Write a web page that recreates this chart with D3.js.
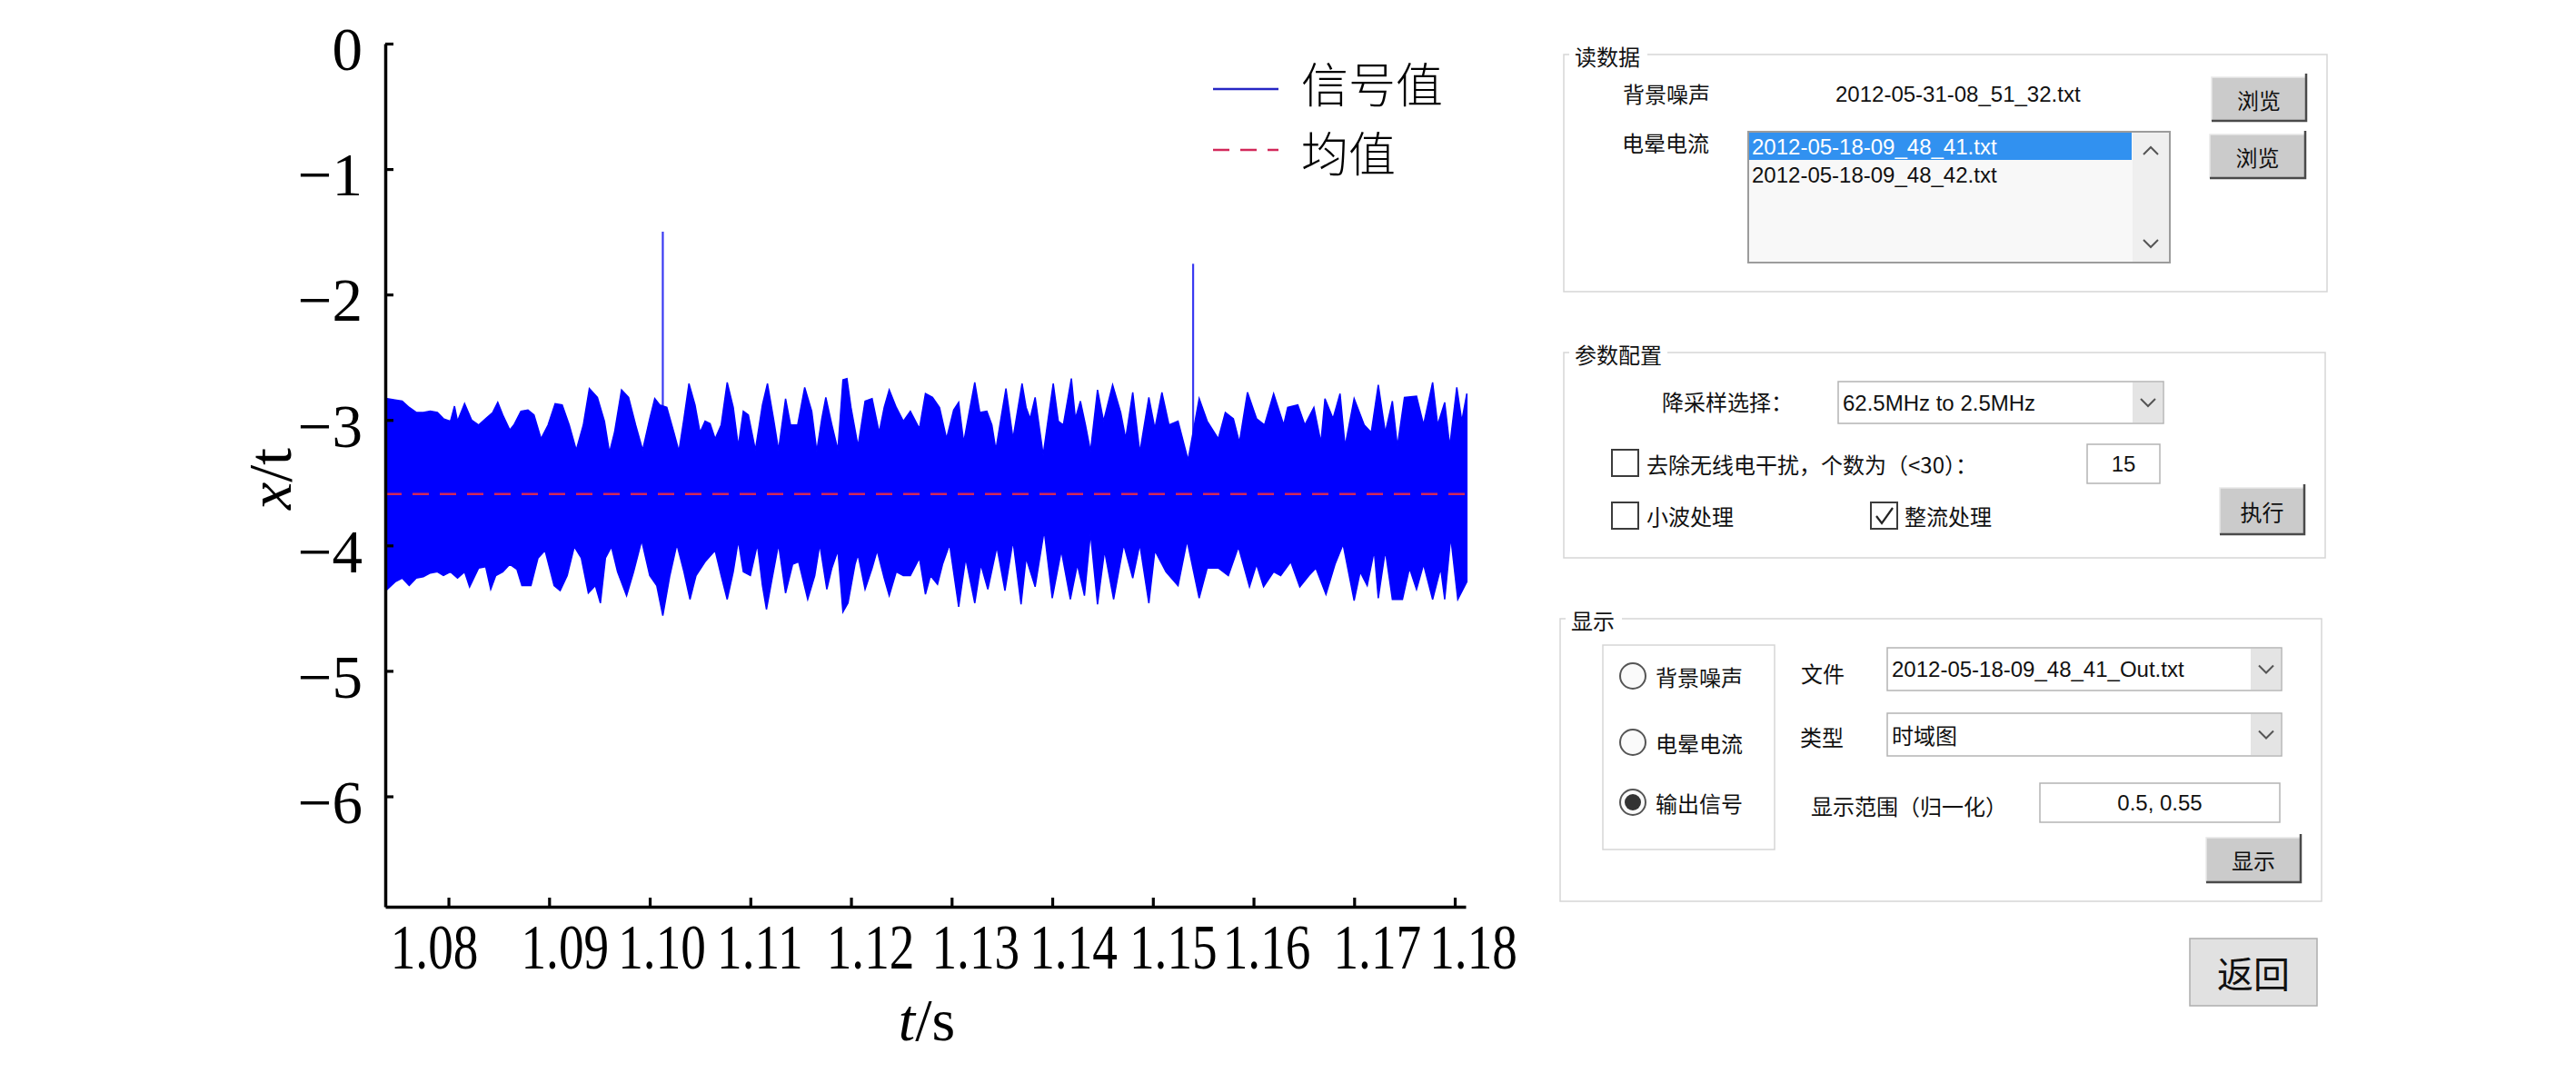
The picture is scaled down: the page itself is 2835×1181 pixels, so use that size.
<!DOCTYPE html>
<meta charset="utf-8">
<style>
    body { margin: 0; background: #fff; }
    .ui-cjk { font-family: "Noto Sans CJK SC", sans-serif; }
    .ui-lat { font-family: "Liberation Sans", Arial, "Noto Sans CJK SC", sans-serif; }
</style>
<script src="https://d3js.org/d3.v7.min.js"></script>

<svg id="my_chart" width="2835" height="1181"></svg>

<script>
    // ---- signal envelope (time in s, value in x/t units) ----
    var upperT = [1.0739,1.0747,1.0754,1.0761,1.0768,1.0775,1.0782,1.0789,1.0795,1.0802,1.0806,1.0809,1.0816,1.0823,1.0830,1.0837,1.0844,1.0849,1.0854,1.0861,1.0865,1.0872,1.0879,1.0885,1.0892,1.0899,1.0906,1.0913,1.0920,1.0927,1.0934,1.0940,1.0948,1.0955,1.0960,1.0965,1.0972,1.0979,1.0986,1.0993,1.1000,1.1005,1.1010,1.1017,1.1024,1.1029,1.1034,1.1039,1.1045,1.1050,1.1055,1.1060,1.1065,1.1071,1.1077,1.1083,1.1088,1.1093,1.1098,1.1105,1.1112,1.1117,1.1123,1.1128,1.1135,1.1140,1.1147,1.1154,1.1161,1.1166,1.1171,1.1175,1.1181,1.1187,1.1192,1.1196,1.1200,1.1207,1.1214,1.1221,1.1228,1.1233,1.1238,1.1245,1.1252,1.1259,1.1268,
        1.1274,1.1281,1.1288,1.1295,1.1302,1.1307,1.1312,1.1317,1.1323,1.1328,1.1335,1.1340,1.1344,1.1349,1.1354,1.1361,1.1370,1.1374,1.1378,1.1383,1.1391,1.1396,1.1401,1.1406,1.1411,1.1419,1.1423,1.1428,1.1433,1.1438,1.1445,1.1451,1.1460,1.1468,1.1473,1.1480,1.1487,1.1496,1.1502,1.1509,1.1516,1.1525,1.1535,1.1546,1.1554,1.1565,1.1572,1.1580,1.1586,1.1594,1.1603,1.1611,1.1620,1.1630,1.1634,1.1644,1.1651,1.1660,1.1667,1.1671,1.1679,1.1686,1.1691,1.1700,1.1710,1.1717,1.1724,1.1731,1.1738,1.1743,1.1750,1.1762,1.1769,1.1778,1.1783,1.1790,1.1795,1.1802,1.1807,1.1812];
    var upperV = [-2.83,-2.84,-2.85,-2.90,-2.94,-2.94,-2.93,-2.94,-2.99,-3.01,-2.89,-3.01,-2.87,-3.00,-3.04,-2.99,-2.94,-2.86,-2.96,-3.08,-3.04,-2.93,-2.92,-2.96,-3.15,-3.04,-2.87,-2.88,-3.04,-3.24,-3.04,-2.75,-2.82,-3.01,-3.26,-3.10,-2.76,-2.82,-3.04,-3.24,-2.99,-2.83,-2.88,-2.90,-3.10,-3.25,-2.99,-2.71,-2.88,-3.10,-3.01,-3.03,-3.15,-3.04,-2.70,-2.90,-3.21,-2.93,-2.96,-3.24,-2.88,-2.71,-2.99,-3.24,-2.83,-3.04,-3.04,-2.74,-2.93,-3.25,-2.99,-2.82,-3.04,-3.24,-2.68,-2.67,-2.90,-3.21,-2.85,-2.83,-3.10,-2.90,-2.76,-2.90,-3.01,-2.93,-3.07,
        -2.79,-2.82,-2.90,-3.15,-2.92,-2.86,-3.18,-2.96,-2.70,-2.94,-2.93,-3.04,-3.24,-2.99,-2.75,-3.15,-2.71,-2.90,-2.99,-2.82,-3.28,-2.99,-2.71,-3.01,-3.04,-2.67,-2.99,-2.85,-3.04,-3.25,-2.76,-3.01,-2.72,-2.94,-3.15,-2.78,-3.26,-2.82,-3.07,-2.78,-3.04,-3.01,-3.32,-2.83,-3.01,-3.15,-2.94,-2.99,-3.18,-2.78,-2.99,-3.04,-2.79,-3.04,-2.90,-2.88,-3.04,-2.90,-3.18,-2.83,-2.99,-2.79,-3.21,-2.83,-3.04,-3.10,-2.72,-3.10,-2.85,-3.21,-2.82,-2.81,-3.04,-2.70,-3.04,-2.86,-3.21,-2.74,-3.01,-2.79];

    var lowerT = [1.0739,1.0747,1.0754,1.0761,1.0768,1.0775,1.0782,1.0789,1.0795,1.0802,1.0809,1.0816,1.0821,1.0830,1.0837,1.0842,1.0847,1.0854,1.0861,1.0868,1.0873,1.0882,1.0889,1.0896,1.0905,1.0911,1.0918,1.0925,1.0932,1.0939,1.0946,1.0951,1.0956,1.0962,1.0968,1.0977,1.0984,1.0992,1.1000,1.1007,1.1013,1.1020,1.1027,1.1034,1.1040,1.1046,1.1055,1.1065,1.1071,1.1077,1.1083,1.1088,1.1093,1.1100,1.1107,1.1112,1.1116,1.1121,1.1128,1.1135,1.1142,1.1148,1.1157,1.1164,1.1169,1.1176,1.1181,1.1187,1.1192,1.1197,1.1204,1.1207,1.1214,1.1221,1.1226,1.1233,1.1238,1.1245,1.1252,1.1259,1.1268,
        1.1274,1.1279,1.1286,1.1291,1.1298,1.1307,1.1314,1.1323,1.1329,1.1336,1.1345,1.1353,1.1361,1.1369,1.1374,1.1383,1.1392,1.1400,1.1409,1.1418,1.1425,1.1432,1.1438,1.1445,1.1452,1.1461,1.1471,1.1480,1.1487,1.1496,1.1502,1.1513,1.1525,1.1534,1.1546,1.1554,1.1565,1.1575,1.1585,1.1596,1.1603,1.1610,1.1620,1.1627,1.1637,1.1646,1.1655,1.1662,1.1672,1.1681,1.1689,1.1700,1.1706,1.1713,1.1720,1.1724,1.1731,1.1738,1.1748,1.1755,1.1762,1.1769,1.1778,1.1786,1.1790,1.1796,1.1803,1.1812];
    var lowerV = [-4.35,-4.29,-4.26,-4.32,-4.26,-4.25,-4.22,-4.21,-4.24,-4.21,-4.26,-4.21,-4.33,-4.18,-4.17,-4.35,-4.24,-4.21,-4.15,-4.19,-4.32,-4.32,-4.10,-4.04,-4.32,-4.36,-4.24,-4.01,-4.10,-4.38,-4.32,-4.46,-4.10,-4.01,-4.21,-4.40,-4.21,-3.96,-4.24,-4.32,-4.56,-4.24,-3.99,-4.21,-4.43,-4.24,-4.13,-4.04,-4.24,-4.43,-4.21,-3.96,-4.21,-4.24,-3.99,-4.32,-4.51,-4.29,-3.99,-4.38,-4.15,-4.13,-4.43,-4.24,-3.99,-4.35,-4.18,-4.04,-4.53,-4.46,-4.15,-4.07,-4.35,-4.18,-4.04,-4.26,-4.40,-4.21,-4.24,-4.24,-4.10,
        -4.39,-4.24,-4.31,-4.15,-3.99,-4.49,-4.10,-4.46,-4.15,-4.35,-4.01,-4.36,-3.96,-4.47,-4.10,-4.33,-3.88,-4.42,-4.04,-4.43,-4.15,-4.40,-3.90,-4.47,-4.04,-4.43,-3.99,-4.26,-3.99,-4.46,-4.04,-4.21,-4.32,-3.96,-4.42,-4.18,-4.18,-4.24,-4.01,-4.33,-4.15,-4.33,-4.21,-4.24,-4.13,-4.33,-4.24,-4.18,-4.39,-4.15,-3.99,-4.44,-4.21,-4.32,-4.04,-4.42,-4.04,-4.43,-4.43,-4.18,-4.35,-4.15,-4.43,-4.18,-4.43,-3.93,-4.43,-4.29];

    // two isolated spikes above the band
    var spikeT = [1.1013, 1.1540];
    var spikeV = [-1.50, -1.755];

    var meanValue = -3.59;

    var xTicks = [1.08, 1.09, 1.10, 1.11, 1.12, 1.13, 1.14, 1.15, 1.16, 1.17, 1.18];
    var yTicks = [0, -1, -2, -3, -4, -5, -6];
    var legendLabels = ["信号值", "均值"];

    // ---- panel texts ----
    var noiseFile = "2012-05-31-08_51_32.txt";
    var coronaFiles = ["2012-05-18-09_48_41.txt", "2012-05-18-09_48_42.txt"];
    var resampleChoice = "62.5MHz to 2.5MHz";
    var radioLabels = ["背景噪声", "电晕电流", "输出信号"];
    var outFile = "2012-05-18-09_48_41_Out.txt";

    var svg = d3.select("#my_chart");

    // Scales
    var x = d3.scaleLinear().domain([1.07372, 1.18108]).range([424, 1613]);
    var y = d3.scaleLinear().domain([-6.88, 0]).range([998, 48]);

    // ---- signal: spikes first, band drawn over their feet ----
    svg.append("g")
        .selectAll("line")
        .data(spikeT)
        .enter().append("line")
        .attr("x1", function(d) { return x(d); })
        .attr("x2", function(d) { return x(d); })
        .attr("y1", y(meanValue))
        .attr("y2", function(d, i) { return y(spikeV[i]); })
        .attr("stroke", "#3a3af2")
        .attr("stroke-width", 2.2);

    var upper = upperT.map(function(t, i) { return [t, upperV[i]]; });
    var lower = lowerT.map(function(t, i) { return [t, lowerV[i]]; }).reverse();
    var line = d3.line().x(function(d) { return x(d[0]); }).y(function(d) { return y(d[1]); });

    svg.append("path")
        .attr("d", line(upper.concat(lower)) + "Z")
        .attr("fill", "#0000ff")
        .attr("stroke", "#0000ff")
        .attr("stroke-width", 1.5)
        .attr("stroke-linejoin", "miter");

    // mean line
    svg.append("line")
        .attr("x1", x(x.domain()[0]))
        .attr("x2", x(1.1812))
        .attr("y1", y(meanValue))
        .attr("y2", y(meanValue))
        .attr("stroke", "#d2285a")
        .attr("stroke-width", 2.6)
        .attr("stroke-dasharray", "18,12");

    // ---- axes ----
    var labelNudge = [-16, 17, 13, 10, 21, 26, 23, 22, 14, 25, 20];

    var gx = svg.append("g")
        .attr("transform", "translate(0," + y(-6.88) + ")")
        .call(d3.axisBottom(x).tickValues(xTicks).tickFormat(d3.format(".2f"))
            .tickSize(-10).tickSizeOuter(0).tickPadding(19));
    gx.select(".domain").attr("stroke-width", 3.5);
    gx.selectAll(".tick line").attr("stroke-width", 3.2);
    gx.selectAll(".tick text")
        .attr("font-family", "'Liberation Serif', 'Times New Roman', serif")
        .attr("font-size", 69)
        .attr("fill", "#000")
        .attr("transform", function(d, i) { return "translate(" + labelNudge[i] + ",0) scale(0.8,1)"; });

    var gy = svg.append("g")
        .attr("transform", "translate(" + x(x.domain()[0]) + ",0)")
        .call(d3.axisLeft(y).tickValues(yTicks).tickFormat(d3.format("d"))
            .tickSize(-9).tickSizeOuter(0).tickPadding(25));
    gy.select(".domain").attr("stroke-width", 3.5);
    gy.selectAll(".tick line").attr("stroke-width", 3.2);
    gy.selectAll(".tick text")
        .attr("font-family", "'Liberation Serif', 'Times New Roman', serif")
        .attr("font-size", 67)
        .attr("fill", "#000")
        .attr("dy", "0.43em");

    // axis titles
    var yTitle = svg.append("text")
        .attr("transform", "translate(320,527) rotate(-90)")
        .attr("text-anchor", "middle")
        .attr("font-family", "'Liberation Serif', 'Times New Roman', serif")
        .attr("font-size", 68);
    yTitle.append("tspan").attr("font-style", "italic").text("x");
    yTitle.append("tspan").text("/t");

    var xTitle = svg.append("text")
        .attr("x", 1020)
        .attr("y", 1145)
        .attr("text-anchor", "middle")
        .attr("font-family", "'Liberation Serif', 'Times New Roman', serif")
        .attr("font-size", 66);
    xTitle.append("tspan").attr("font-style", "italic").text("t");
    xTitle.append("tspan").text("/s");

    // ---- legend ----
    var legend = svg.append("g");
    legend.append("line")
        .attr("x1", 1335).attr("x2", 1407).attr("y1", 98).attr("y2", 98)
        .attr("stroke", "#2626c4").attr("stroke-width", 2.4);
    legend.append("line")
        .attr("x1", 1335).attr("x2", 1407).attr("y1", 165).attr("y2", 165)
        .attr("stroke", "#d2285a").attr("stroke-width", 2.6)
        .attr("stroke-dasharray", "18,12");
    legend.selectAll("text")
        .data(legendLabels)
        .enter().append("text")
        .attr("x", 1432)
        .attr("y", function(d, i) { return i === 0 ? 90 : 166; })
        .attr("dominant-baseline", "central")
        .attr("font-family", "'Noto Sans CJK SC', sans-serif")
        .attr("font-weight", 300)
        .attr("font-size", 52)
        .text(function(d) { return d; });

    // ---- control panel ----
    var ui = svg.append("g");

    function cjk(x0, cy, str, size, anchor, color) {
        return ui.append("text")
            .attr("class", "ui-cjk")
            .attr("x", x0).attr("y", cy)
            .attr("dominant-baseline", "central")
            .attr("font-size", size || 24)
            .attr("text-anchor", anchor || "start")
            .attr("fill", color || "#111")
            .text(str);
    }
    function lat(x0, cy, str, size, anchor, color) {
        return ui.append("text")
            .attr("class", "ui-lat")
            .attr("x", x0).attr("y", cy)
            .attr("dy", "0.36em")
            .attr("font-size", size || 24)
            .attr("text-anchor", anchor || "start")
            .attr("fill", color || "#111")
            .text(str);
    }
    function groupBox(x0, y0, x1, y1, title, titleW) {
        ui.append("rect")
            .attr("x", x0).attr("y", y0).attr("width", x1 - x0).attr("height", y1 - y0)
            .attr("fill", "none").attr("stroke", "#d6d6d6").attr("stroke-width", 1.5);
        ui.append("rect")
            .attr("x", x0 + 6).attr("y", y0 - 14).attr("width", titleW).attr("height", 28)
            .attr("fill", "#fff");
        cjk(x0 + 12, y0 + 1, title, 24);
    }
    function button(x0, y0, w, h, label) {
        ui.append("rect").attr("x", x0).attr("y", y0).attr("width", w).attr("height", h)
            .attr("fill", "#cbcbcb");
        ui.append("path").attr("d", "M" + x0 + "," + (y0 + h) + "V" + y0 + "H" + (x0 + w))
            .attr("fill", "none").attr("stroke", "#e9e9e9").attr("stroke-width", 1.5);
        ui.append("path").attr("d", "M" + x0 + "," + (y0 + h) + "H" + (x0 + w) + "V" + (y0 - 4))
            .attr("fill", "none").attr("stroke", "#4a4a4a").attr("stroke-width", 2.5);
        cjk(x0 + w / 2, y0 + h / 2, label, 24, "middle");
    }
    function chevron(cx, cy, down) {
        var s = down ? 1 : -1;
        ui.append("path")
            .attr("d", "M" + (cx - 8) + "," + (cy - 4 * s) + "L" + cx + "," + (cy + 4 * s) + "L" + (cx + 8) + "," + (cy - 4 * s))
            .attr("fill", "none").attr("stroke", "#555").attr("stroke-width", 2);
    }
    function combo(x0, y0, x1, y1, str, isCjk) {
        ui.append("rect").attr("x", x0).attr("y", y0).attr("width", x1 - x0).attr("height", y1 - y0)
            .attr("fill", "#fff").attr("stroke", "#b4b4b4").attr("stroke-width", 1.5);
        ui.append("rect").attr("x", x1 - 34).attr("y", y0 + 1).attr("width", 33).attr("height", y1 - y0 - 2)
            .attr("fill", "#e4e4e4");
        chevron(x1 - 17, (y0 + y1) / 2, true);
        if (isCjk) cjk(x0 + 5, (y0 + y1) / 2, str, 24);
        else lat(x0 + 5, (y0 + y1) / 2, str, 24);
    }
    function checkbox(x0, y0, checked) {
        ui.append("rect").attr("x", x0).attr("y", y0).attr("width", 29).attr("height", 29)
            .attr("fill", "#fff").attr("stroke", "#3c3c3c").attr("stroke-width", 2);
        if (checked) {
            ui.append("path")
                .attr("d", "M" + (x0 + 6) + "," + (y0 + 15) + "L" + (x0 + 12) + "," + (y0 + 23) + "L" + (x0 + 24) + "," + (y0 + 6))
                .attr("fill", "none").attr("stroke", "#222").attr("stroke-width", 2.2);
        }
    }
    function textbox(x0, y0, x1, y1, str) {
        ui.append("rect").attr("x", x0).attr("y", y0).attr("width", x1 - x0).attr("height", y1 - y0)
            .attr("fill", "#fff").attr("stroke", "#b4b4b4").attr("stroke-width", 1.5);
        lat((x0 + x1) / 2, (y0 + y1) / 2, str, 24, "middle");
    }

    // 读数据
    groupBox(1721, 60, 2561, 321, "读数据", 86);
    cjk(1786, 102, "背景噪声");
    lat(2020, 103, noiseFile);
    button(2434, 85, 104, 48, "浏览");
    cjk(1785, 156, "电晕电流");
    ui.append("rect").attr("x", 1924).attr("y", 145).attr("width", 464).attr("height", 144)
        .attr("fill", "#f8f8f8").attr("stroke", "#9c9c9c").attr("stroke-width", 2);
    ui.append("rect").attr("x", 2347).attr("y", 146).attr("width", 40).attr("height", 142)
        .attr("fill", "#efefef");
    ui.append("rect").attr("x", 1925).attr("y", 146).attr("width", 421).attr("height", 30)
        .attr("fill", "#3191f0");
    chevron(2367, 166, false);
    chevron(2367, 268, true);
    coronaFiles.forEach(function(f, i) {
        lat(1928, 161 + i * 31, f, 24, "start", i === 0 ? "#fff" : "#111");
    });
    button(2432, 148, 105, 48, "浏览");

    // 参数配置
    groupBox(1721, 388, 2559, 614, "参数配置", 108);
    cjk(1829, 441, "降采样选择：");
    combo(2023, 420, 2381, 466, resampleChoice, false);
    checkbox(1774, 495, false);
    cjk(1812, 510, "去除无线电干扰，个数为（<30）：");
    textbox(2297, 489, 2377, 532, "15");
    checkbox(1774, 553, false);
    cjk(1812, 567, "小波处理");
    checkbox(2059, 553, true);
    cjk(2096, 567, "整流处理");
    button(2443, 537, 93, 51, "执行");

    // 显示
    groupBox(1717, 681, 2555, 992, "显示", 62);
    ui.append("rect").attr("x", 1764).attr("y", 710).attr("width", 189).attr("height", 225)
        .attr("fill", "none").attr("stroke", "#d6d6d6").attr("stroke-width", 1.5);
    var radioY = [744, 817, 883];
    radioLabels.forEach(function(lbl, i) {
        ui.append("circle").attr("cx", 1797).attr("cy", radioY[i]).attr("r", 14)
            .attr("fill", "#fafafa").attr("stroke", "#555").attr("stroke-width", 2);
        if (i === 2) {
            ui.append("circle").attr("cx", 1797).attr("cy", radioY[i]).attr("r", 9).attr("fill", "#333");
        }
        cjk(1822, radioY[i], lbl);
    });
    cjk(1982, 740, "文件");
    combo(2077, 713, 2511, 760, outFile, false);
    cjk(1981, 810, "类型");
    combo(2077, 785, 2511, 832, "时域图", true);
    cjk(1993, 886, "显示范围（归一化）");
    textbox(2245, 862, 2509, 905, "0.5, 0.55");
    button(2428, 922, 104, 49, "显示");

    ui.append("rect").attr("x", 2410).attr("y", 1033).attr("width", 140).attr("height", 74)
        .attr("fill", "#e1e1e1").attr("stroke", "#adadad").attr("stroke-width", 1.5);
    cjk(2480, 1070, "返回", 40, "middle");
</script>
